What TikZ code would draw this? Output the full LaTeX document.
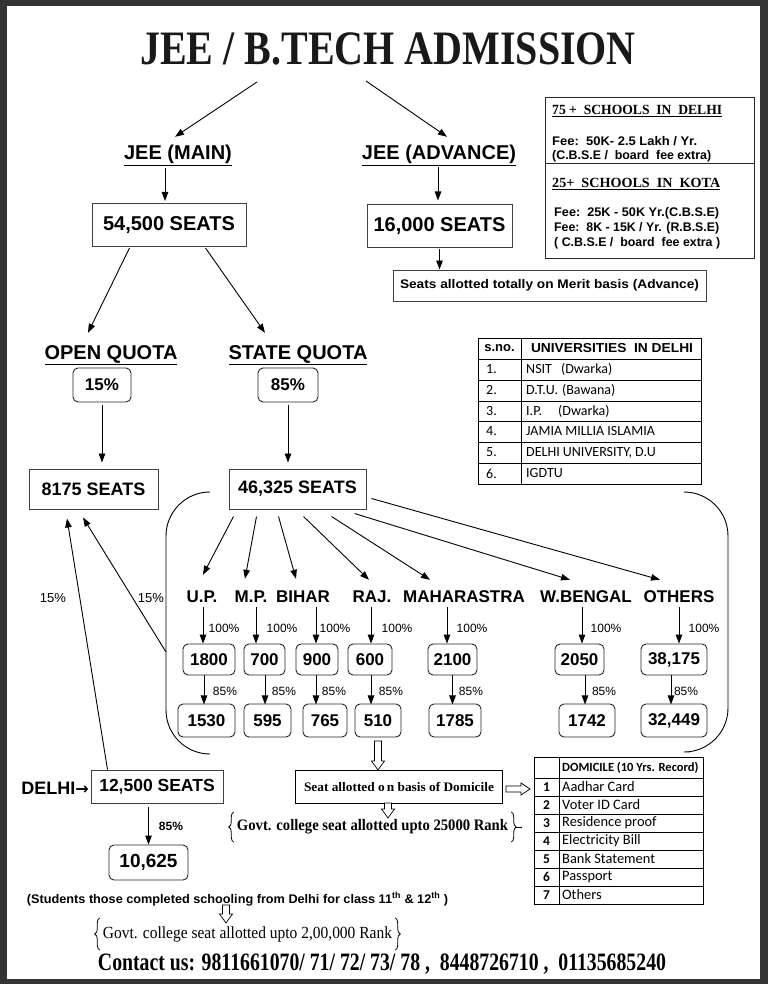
\documentclass[tikz,border=0pt]{standalone}
\usepackage{fontspec}
\setmainfont{Liberation Serif}
\setsansfont{Liberation Sans}
\newfontfamily\carl{Carlito}
\newfontfamily\dejavu{DejaVu Sans}
\usetikzlibrary{arrows.meta,decorations.pathreplacing}
\newcommand{\fsz}[1]{\fontsize{#1}{#1}\selectfont}
\newcommand{\fitw}[2]{\resizebox{#1}{\height}{#2}}
\newcommand{\nbox}[6]{\node[nbox, minimum width={#3-#2}, minimum height=#5] (#1) at ({(#2+#3)/2},#4) {#6};}
% hollow arrows: down (x centre, y start, y end), right (y centre, x start, x end)
\newcommand{\hdown}[3]{\draw[hol] ({#1-3.5},#2) -- ({#1-3.5},{#3-9}) -- ({#1-6.5},{#3-9}) -- (#1,#3) -- ({#1+6.5},{#3-9}) -- ({#1+3.5},{#3-9}) -- ({#1+3.5},#2) -- cycle;}
\newcommand{\hright}[3]{\draw[hol] (#2,{#1-3}) -- ({#3-9},{#1-3}) -- ({#3-9},{#1-6}) -- (#3,#1) -- ({#3-9},{#1+6}) -- ({#3-9},{#1+3}) -- (#2,{#1+3}) -- cycle;}
\begin{document}
\begin{tikzpicture}[x=1pt,y=-1pt,
  arr/.style={line width=0.9pt,-{Triangle[length=9pt,width=6.5pt]}},
  sbox/.style={draw=black!75,line width=1pt,font=\sffamily\bfseries,inner sep=0pt},
  nbox/.style={draw=black!85,line width=0.9pt,rounded corners=5pt,font=\sffamily\bfseries\fsz{17},inner sep=0pt},
  lab/.style={font=\sffamily\bfseries\fsz{17},anchor=base,inner sep=0pt,text height=13pt,text depth=0pt},
  big/.style={font=\sffamily\bfseries\fsz{20},anchor=base,inner sep=0pt,text height=15pt,text depth=0pt},
  pct/.style={font=\sffamily\fsz{12},inner sep=0pt},
  hol/.style={draw,fill=white,line width=0.7pt,line join=miter},
  tx/.style={inner sep=0pt,anchor=west},
  brc/.style={decorate,decoration={brace,amplitude=5pt},line width=0.8pt}]
% background and frame
\fill[black!80] (0,0) rectangle (768,984);
\fill[white] (7,6) rectangle (760,979);
\useasboundingbox (0,0) rectangle (768,984);

% title
\node[font=\rmfamily\bfseries\fsz{40},anchor=base,inner sep=0pt,text=black!90] (title) at (388,65) {\scalebox{1}[1.2]{JEE / B.TECH ADMISSION}};
\coordinate (ta) at (257,82);
\coordinate (tb) at (366,81);

% JEE labels
\node[big] (jmain) at (178,160) {\underline{JEE (MAIN)}};
\node[big] (jadv) at (439,160) {\underline{JEE (ADVANCE)}};
\draw[arr] (ta) -- ([xshift=-3pt,yshift=8pt]jmain.north);
\draw[arr] (tb) -- ([xshift=8pt,yshift=8pt]jadv.north);

% seat boxes
\node[sbox,font=\sffamily\bfseries\fsz{20},minimum width=154,minimum height=43] (b545) at (169,225) {54,500 SEATS};
\node[sbox,font=\sffamily\bfseries\fsz{20},minimum width=145,minimum height=42] (b16) at (439.5,226) {16,000 SEATS};
\draw[arr] ([xshift=-4pt,yshift=35pt]b545.north) -- ([xshift=-4pt,yshift=2pt]b545.north);
\draw[arr] ([xshift=-1.5pt,yshift=37pt]b16.north) -- ([xshift=-1.5pt,yshift=4pt]b16.north);
\node[sbox,font=\sffamily\bfseries\fsz{12.5},minimum width=313,minimum height=31] (merit) at (549.5,285.5) {\fitw{299pt}{Seats allotted totally on Merit basis (Advance)}};
\draw[arr] ([yshift=-1pt]b16.south) -- (b16.south |- merit.north);

% schools box
\node[draw=black!85,line width=1pt,minimum width=209,minimum height=160,inner sep=0pt] (sch) at (649.5,178) {};
\draw[line width=1pt,black!85] ([yshift=-66pt]sch.north west) -- ([yshift=-66pt]sch.north east);
\node[tx,font=\rmfamily\bfseries\fsz{14}] (sd) at (552,111) {\fitw{170pt}{\underline{75 +\ \ SCHOOLS\ \ IN\ \ DELHI}}};
\node[tx,font=\sffamily\bfseries\fsz{12.5}] (sd1) at (552,141) {\fitw{145pt}{Fee:\ \ 50K- 2.5 Lakh / Yr.}};
\node[tx,font=\sffamily\bfseries\fsz{12.5}] (sd2) at (552,156) {\fitw{159pt}{(C.B.S.E /\ \ board\ \ fee extra)}};
\node[tx,font=\rmfamily\bfseries\fsz{14}] (sk) at (552,184) {\fitw{168pt}{\underline{25+\ \ SCHOOLS\ \ IN\ \ KOTA}}};
\node[tx,font=\sffamily\bfseries\fsz{12.5}] (sk1) at (554,213) {\fitw{165pt}{Fee:\ \ 25K - 50K Yr.(C.B.S.E)}};
\node[tx,font=\sffamily\bfseries\fsz{12.5}] (sk2) at (554,228) {\fitw{165pt}{Fee:\ \ 8K - 15K / Yr. (R.B.S.E)}};
\node[tx,font=\sffamily\bfseries\fsz{12.5}] (sk3) at (554,243) {\fitw{166pt}{( C.B.S.E /\ \ board\ \ fee extra )}};

% quotas
\node[big] (oq) at (111,359) {\underline{OPEN QUOTA}};
\node[big] (sq) at (298,359) {\underline{STATE QUOTA}};
\draw[arr] ([xshift=38pt,yshift=-1pt]b545.south west) -- ([xshift=-23pt,yshift=11pt]oq.north);
\draw[arr] ([xshift=-41pt,yshift=-1pt]b545.south east) -- ([xshift=-33pt,yshift=11pt]sq.north);
\node[nbox,minimum width=58,minimum height=34] (p15) at (102,385) {15\%};
\node[nbox,minimum width=60,minimum height=34] (p85) at (288,385) {85\%};
\node[sbox,font=\sffamily\bfseries\fsz{18},minimum width=129,minimum height=40] (b8175) at (93.5,489) {8175 SEATS};
\node[sbox,font=\sffamily\bfseries\fsz{18},minimum width=137,minimum height=40] (b46) at (297.5,489) {46,325 SEATS};
\draw[arr] ([yshift=-3pt]p15.south) -- ([yshift=6pt]p15.south |- b8175.north);
\draw[arr] ([yshift=-3pt]p85.south) -- ([yshift=6pt]p85.south |- b46.north);

% universities table
\draw[line width=0.8pt] (478,338) rectangle (701,484);
\draw[line width=0.8pt] (521,338) -- (521,484);
\foreach \yy in {359,380,401,421,442,463} \draw[line width=0.8pt] (478,\yy) -- (701,\yy);
\node[font=\sffamily\bfseries\fsz{13},inner sep=0pt] (sno) at (499.5,348.5) {s.no.};
\node[font=\sffamily\bfseries\fsz{13},inner sep=0pt] (uh) at (612,348.5) {\fitw{162pt}{UNIVERSITIES\ \ IN DELHI}};
\node[tx,font=\carl\fsz{14}] (u1n) at (486,369.5) {1.};
\node[tx,font=\carl\fsz{14}] (u2n) at (486,390.5) {2.};
\node[tx,font=\carl\fsz{14}] (u3n) at (486,411) {3.};
\node[tx,font=\carl\fsz{14}] (u4n) at (486,431.5) {4.};
\node[tx,font=\carl\fsz{14}] (u5n) at (486,452.5) {5.};
\node[tx,font=\carl\fsz{14}] (u6n) at (486,473.5) {6.};
\node[tx,font=\carl\fsz{14}] (u1) at (526,369.5) {NSIT\hspace{9pt}(Dwarka)};
\node[tx,font=\carl\fsz{14}] (u2) at (526,390.5) {D.T.U.\hspace{4pt}(Bawana)};
\node[tx,font=\carl\fsz{14}] (u3) at (526,411) {I.P.\hspace{16pt}(Dwarka)};
\node[tx,font=\carl\fsz{14}] (u4) at (526,431.5) {JAMIA MILLIA ISLAMIA};
\node[tx,font=\carl\fsz{14}] (u5) at (526,452.5) {DELHI UNIVERSITY, D.U};
\node[tx,font=\carl\fsz{14}] (u6) at (526,473.5) {IGDTU};

% bracket around states
\draw[line width=0.9pt,rounded corners=44pt] (210,492) -- (166,492) -- (166,754) -- (210,754);
\draw[line width=0.9pt,rounded corners=44pt] (685,492) -- (728,492) -- (728,752) -- (690,752);

% state labels
\node[lab] (sUP) at (202,602) {U.P.};
\node[lab] (sMP) at (251,602) {M.P.};
\node[lab] (sBI) at (303,602) {BIHAR};
\node[lab] (sRA) at (372,602) {RAJ.};
\node[lab] (sMA) at (464,602) {MAHARASTRA};
\node[lab] (sWB) at (586,602) {W.BENGAL};
\node[lab] (sOT) at (679,602) {OTHERS};
\draw[arr] ([xshift=5pt,yshift=-7pt]b46.south west) -- ([xshift=1pt,yshift=14pt]sUP.north);
\draw[arr] ([xshift=28pt,yshift=-7pt]b46.south west) -- ([xshift=-6pt,yshift=10pt]sMP.north);
\draw[arr] ([xshift=50pt,yshift=-7pt]b46.south west) -- ([xshift=-7pt,yshift=10pt]sBI.north);
\draw[arr] ([xshift=75pt,yshift=-7pt]b46.south west) -- ([xshift=-3pt,yshift=9pt]sRA.north);
\draw[arr] ([xshift=103pt,yshift=-7pt]b46.south west) -- ([xshift=-34pt,yshift=9pt]sMA.north);
\draw[arr] ([xshift=126pt,yshift=-4pt]b46.south west) -- ([xshift=-16pt,yshift=9pt]sWB.north);
\draw[arr] ([xshift=5pt,yshift=-30pt]b46.north east) -- ([xshift=-19pt,yshift=9pt]sOT.north);

% row 1 boxes
\nbox{r1800}{183}{235}{659.5}{31}{1800}
\nbox{r700}{244}{285}{659.5}{31}{700}
\nbox{r900}{296}{338}{659.5}{31}{900}
\nbox{r600}{348}{392}{659.5}{31}{600}
\nbox{r2100}{428}{477}{659.5}{31}{2100}
\nbox{r2050}{555}{604}{659.5}{31}{2050}
\nbox{r38}{641}{707}{659.5}{31}{38,175}
% row 2 boxes
\nbox{r1530}{178}{235}{720.5}{33}{1530}
\nbox{r595}{244}{291}{720.5}{33}{595}
\nbox{r765}{303}{347}{720.5}{33}{765}
\nbox{r510}{355}{401}{720.5}{33}{510}
\nbox{r1785}{429}{481}{720.5}{33}{1785}
\nbox{r1742}{559}{615}{720.5}{33}{1742}
\nbox{r32}{641}{707}{720.5}{33}{32,449}

% 100% arrows
\draw[arr] ([xshift=-6pt,yshift=37pt]r1800.north) -- ([xshift=-6pt]r1800.north);
\draw[arr] ([xshift=-8.5pt,yshift=37pt]r700.north) -- ([xshift=-8.5pt]r700.north);
\draw[arr] ([xshift=-1pt,yshift=37pt]r900.north) -- ([xshift=-1pt]r900.north);
\draw[arr] ([xshift=1pt,yshift=37pt]r600.north) -- ([xshift=1pt]r600.north);
\draw[arr] ([xshift=-5.5pt,yshift=37pt]r2100.north) -- ([xshift=-5.5pt]r2100.north);
\draw[arr] ([xshift=2.5pt,yshift=37pt]r2050.north) -- ([xshift=2.5pt]r2050.north);
\draw[arr] ([xshift=5pt,yshift=37pt]r38.north) -- ([xshift=5pt]r38.north);
\node[pct] (c1) at (224,628) {100\%};
\node[pct] (c2) at (282,628) {100\%};
\node[pct] (c3) at (335,628) {100\%};
\node[pct] (c4) at (397,628) {100\%};
\node[pct] (c5) at (472,628) {100\%};
\node[pct] (c6) at (606,628) {100\%};
\node[pct] (c7) at (704,628) {100\%};

% 85% arrows
\draw[arr] ([xshift=-5pt]r1800.south) -- ([xshift=-5pt,yshift=-29pt]r1800.south);
\draw[arr] ([xshift=0.5pt]r700.south) -- ([xshift=0.5pt,yshift=-29pt]r700.south);
\draw[arr] ([xshift=-1pt]r900.south) -- ([xshift=-1pt,yshift=-29pt]r900.south);
\draw[arr] ([xshift=1pt]r600.south) -- ([xshift=1pt,yshift=-29pt]r600.south);
\draw[arr] ([xshift=0pt]r2100.south) -- ([xshift=0pt,yshift=-29pt]r2100.south);
\draw[arr] ([xshift=5.5pt]r2050.south) -- ([xshift=5.5pt,yshift=-29pt]r2050.south);
\draw[arr] ([xshift=-3pt]r38.south) -- ([xshift=-3pt,yshift=-29pt]r38.south);
\node[pct] (d1) at (225,691) {85\%};
\node[pct] (d2) at (284,691) {85\%};
\node[pct] (d3) at (334,691) {85\%};
\node[pct] (d4) at (391,691) {85\%};
\node[pct] (d5) at (471,691) {85\%};
\node[pct] (d6) at (604,691) {85\%};
\node[pct] (d7) at (686,691) {85\%};

% Delhi
\node[font=\sffamily\bfseries\fsz{18},inner sep=0pt,anchor=east] (delhi) at (89,788) {DELHI{\dejavu\bfseries\fsz{16}→}};
\node[sbox,font=\sffamily\bfseries\fsz{17.5},minimum width=132,minimum height=33] (b125) at (157,786.5) {12,500 SEATS};
\node[nbox,font=\sffamily\bfseries\fsz{19},minimum width=79,minimum height=35] (b10) at (148.5,862.5) {10,625};
\draw[arr] ([yshift=-3pt]b125.south -| b10.north) -- (b10.north);
\node[font=\sffamily\bfseries\fsz{12},inner sep=0pt] (e85) at (171,826) {85\%};

% arrows to 8175
\coordinate (bk) at (166,652);
\draw[arr] (bk) -- ([xshift=-10.5pt,yshift=-8pt]b8175.south);
\draw[arr] ([xshift=17pt]b125.north west) -- ([xshift=-26.5pt,yshift=-9pt]b8175.south);
\node[font=\sffamily\fsz{13},inner sep=0pt] (l15a) at (53,598) {15\%};
\node[font=\sffamily\fsz{13},inner sep=0pt] (l15b) at (151,598) {15\%};

% domicile
\node[draw,line width=0.9pt,minimum width=207,minimum height=33,inner sep=0pt,font=\rmfamily\bfseries\fsz{13}] (dom) at (399,786.5) {\fitw{190pt}{Seat allotted o\hspace{2pt}n basis of Domicile}};
\hdown{378}{741}{770}
\hright{789}{506}{530}
\hdown{388}{803}{818}
\node[inner sep=3pt,minimum height=30,font=\rmfamily\bfseries\fsz{16}] (g25) at (372.5,827) {\fitw{271pt}{Govt. college seat allotted upto 25000 Rank}};
\draw[brc] (g25.south west) -- (g25.north west);
\draw[brc] (g25.north east) -- (g25.south east);
\draw[line width=0.8pt] ([xshift=5pt]g25.east) -- ([xshift=11pt]g25.east);

% domicile table
\draw[line width=0.8pt] (534,757) rectangle (703,904);
\draw[line width=0.8pt] (559,757) -- (559,904);
\foreach \yy in {778,796,814,832,850,868,886} \draw[line width=0.8pt] (534,\yy) -- (703,\yy);
\node[tx,font=\carl\bfseries\fsz{12.5}] (dh) at (562,767.5) {DOMICILE (10 Yrs. Record)};
\node[font=\carl\bfseries\fsz{13.5},inner sep=0pt] (n1) at (546.5,787) {1};
\node[font=\carl\bfseries\fsz{13.5},inner sep=0pt] (n2) at (546.5,805) {2};
\node[font=\carl\bfseries\fsz{13.5},inner sep=0pt] (n3) at (546.5,823) {3};
\node[font=\carl\bfseries\fsz{13.5},inner sep=0pt] (n4) at (546.5,841) {4};
\node[font=\carl\bfseries\fsz{13.5},inner sep=0pt] (n5) at (546.5,859) {5};
\node[font=\carl\bfseries\fsz{13.5},inner sep=0pt] (n6) at (546.5,877) {6};
\node[font=\carl\bfseries\fsz{13.5},inner sep=0pt] (n7) at (546.5,895) {7};
\node[tx,font=\carl\fsz{14.4}] (t1) at (562,787) {Aadhar Card};
\node[tx,font=\carl\fsz{14.4}] (t2) at (562,805) {Voter ID Card};
\node[tx,font=\carl\fsz{14.4}] (t3) at (562,823) {Residence proof};
\node[tx,font=\carl\fsz{14.4}] (t4) at (562,841) {Electricity Bill};
\node[tx,font=\carl\fsz{14.4}] (t5) at (562,859) {Bank Statement};
\node[tx,font=\carl\fsz{14.4}] (t6) at (562,877) {Passport};
\node[tx,font=\carl\fsz{14.4}] (t7) at (562,895) {Others};

% bottom
\node[font=\sffamily\bfseries\fsz{12.5},inner sep=0pt] (stud) at (237.5,899) {\fitw{421pt}{(Students those completed schooling from Delhi for class 11\textsuperscript{th} \& 12\textsuperscript{th} )}};
\hdown{226}{905}{923}
\node[inner sep=3pt,minimum height=32,font=\rmfamily\fsz{17}] (g2l) at (247.5,934) {\fitw{289pt}{Govt. college seat allotted upto 2,00,000 Rank}};
\draw[brc] (g2l.south west) -- (g2l.north west);
\draw[brc] (g2l.north east) -- (g2l.south east);
\node[font=\rmfamily\bfseries\fsz{25},inner sep=0pt] (contact) at (382,964) {\fitw{568pt}{Contact us: 9811661070/ 71/ 72/ 73/ 78 ,\ \ 8448726710 ,\ \ 01135685240}};
\end{tikzpicture}
\end{document}
